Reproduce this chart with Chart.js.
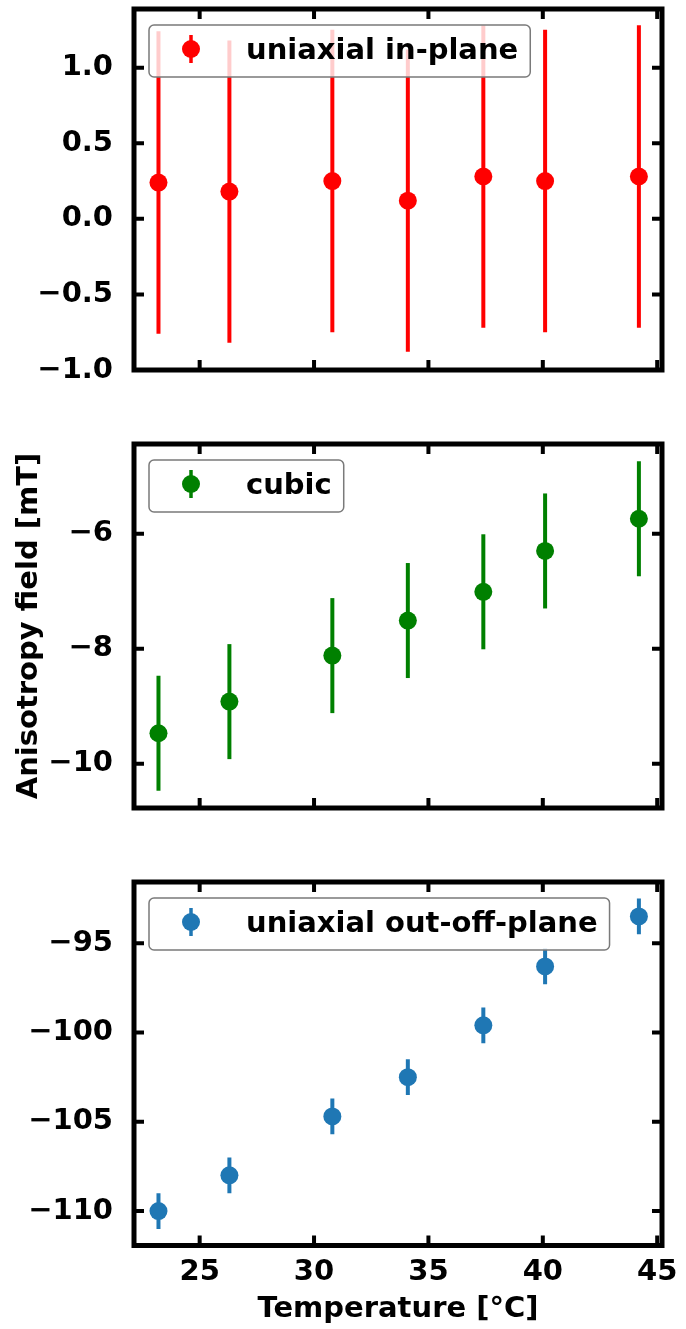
<!DOCTYPE html>
<html>
<head>
<meta charset="utf-8">
<script src="https://cdn.jsdelivr.net/npm/chart.js@4.4.0/dist/chart.umd.min.js"></script>
<style>
  html, body { margin: 0; padding: 0; background: #fff; }
  #wrap { position: relative; width: 686px; height: 1329px; }
  canvas { position: absolute; left: 0; }
</style>
</head>
<body>
<div id="wrap">
  <canvas id="inPlaneChart" width="686" height="410" style="top:0px"></canvas>
  <canvas id="cubicChart" width="686" height="420" style="top:420px"></canvas>
  <canvas id="outPlaneChart" width="686" height="469" style="top:860px"></canvas>
</div>
<script>
const temperature = [23.2, 26.3, 30.8, 34.1, 37.4, 40.1, 44.2];

const inPlane = [0.24, 0.18, 0.25, 0.12, 0.28, 0.25, 0.28];
const inPlaneErr = [1.0, 1.0, 1.0, 1.0, 1.0, 1.0, 1.0];

const cubic = [-9.47, -8.92, -8.12, -7.51, -7.01, -6.30, -5.74];
const cubicErr = [1.0, 1.0, 1.0, 1.0, 1.0, 1.0, 1.0];

const outPlane = [-110.0, -108.0, -104.7, -102.5, -99.6, -96.3, -93.5];
const outPlaneErr = [1.0, 1.0, 1.0, 1.0, 1.0, 1.0, 1.0];

const xTicks = [25, 30, 35, 40, 45];
const inPlaneTicks = [-1.0, -0.5, 0.0, 0.5, 1.0];
const cubicTicks = [-10, -8, -6];
const outPlaneTicks = [-110, -105, -100, -95];

const FONT = { family: "'DejaVu Sans', sans-serif", size: 29, weight: 'bold' };

// vertical error bars, drawn under the markers
const errorBars = {
  id: 'errorBars',
  beforeDatasetsDraw(chart, args, opts) {
    const { ctx, chartArea: a, scales: { x, y } } = chart;
    ctx.save();
    ctx.beginPath();
    ctx.rect(a.left, a.top, a.width, a.height);
    ctx.clip();
    ctx.strokeStyle = opts.color;
    ctx.lineWidth = 4;
    opts.values.forEach((v, i) => {
      const px = x.getPixelForValue(opts.xs[i]);
      ctx.beginPath();
      ctx.moveTo(px, y.getPixelForValue(v - opts.errs[i]));
      ctx.lineTo(px, y.getPixelForValue(v + opts.errs[i]));
      ctx.stroke();
    });
    ctx.restore();
  }
};

// box around the plot with inward ticks on all four sides
const frame = {
  id: 'frame',
  afterDatasetsDraw(chart) {
    const { ctx, chartArea: a, scales: { x, y } } = chart;
    ctx.save();
    ctx.strokeStyle = '#000';
    ctx.lineWidth = 4;
    x.ticks.forEach(t => {
      const px = x.getPixelForValue(t.value);
      ctx.beginPath();
      ctx.moveTo(px, a.top); ctx.lineTo(px, a.top + 10);
      ctx.moveTo(px, a.bottom); ctx.lineTo(px, a.bottom - 10);
      ctx.stroke();
    });
    y.ticks.forEach(t => {
      const py = y.getPixelForValue(t.value);
      ctx.beginPath();
      ctx.moveTo(a.left, py); ctx.lineTo(a.left + 10, py);
      ctx.moveTo(a.right, py); ctx.lineTo(a.right - 10, py);
      ctx.stroke();
    });
    ctx.lineWidth = 5;
    ctx.strokeRect(a.left, a.top, a.width, a.height);
    ctx.restore();
  }
};

// matplotlib-like legend box in the upper left corner
const boxLegend = {
  id: 'boxLegend',
  afterDraw(chart) {
    const { ctx, chartArea: a } = chart;
    const ds = chart.data.datasets[0];
    ctx.save();
    ctx.font = `bold ${FONT.size}px 'DejaVu Sans'`;
    const tw = ctx.measureText(ds.label).width;
    const bx = a.left + 15, by = a.top + 16;
    const bw = 97 + tw + 12, bh = 52;
    ctx.beginPath();
    ctx.roundRect(bx, by, bw, bh, 5);
    ctx.fillStyle = 'rgba(255,255,255,0.8)';
    ctx.fill();
    ctx.strokeStyle = '#7a7a7a';
    ctx.lineWidth = 1.5;
    ctx.stroke();

    const mx = bx + 42, my = by + 24;
    ctx.strokeStyle = ds.backgroundColor;
    ctx.lineWidth = 3.5;
    ctx.beginPath();
    ctx.moveTo(mx, my - 14); ctx.lineTo(mx, my + 14);
    ctx.stroke();
    ctx.fillStyle = ds.backgroundColor;
    ctx.beginPath();
    ctx.arc(mx, my, 9, 0, Math.PI * 2);
    ctx.fill();

    ctx.fillStyle = '#000';
    ctx.textBaseline = 'middle';
    ctx.textAlign = 'left';
    ctx.fillText(ds.label, bx + 97, by + 26);
    ctx.restore();
  }
};

const minus = s => s.replace('-', '\u2212');

function makeChart(id, cfg) {
  const ctx = document.getElementById(id).getContext('2d');
  return new Chart(ctx, {
    type: 'scatter',
    data: {
      datasets: [{
        label: cfg.label,
        data: temperature.map((t, i) => ({ x: t, y: cfg.values[i] })),
        backgroundColor: cfg.color,
        borderWidth: 0,
        pointRadius: 9,
        pointHoverRadius: 9
      }]
    },
    options: {
      responsive: false,
      animation: false,
      events: [],
      layout: { padding: { top: cfg.padTop, right: 24, left: 0, bottom: 0 } },
      plugins: {
        legend: { display: false },
        tooltip: { enabled: false },
        errorBars: { xs: temperature, values: cfg.values, errs: cfg.errs, color: cfg.color }
      },
      scales: {
        x: {
          type: 'linear',
          min: 22.13,
          max: 45.21,
          grid: { display: false },
          border: { display: false },
          afterBuildTicks: s => { s.ticks = xTicks.map(v => ({ value: v })); },
          afterFit: s => {
            s.height = cfg.xHeight;
            s.paddingLeft = 0; s.paddingRight = 0;
          },
          ticks: {
            display: cfg.showX,
            color: '#000',
            font: FONT,
            padding: 2,
            maxRotation: 0
          },
          title: {
            display: cfg.showX,
            text: 'Temperature [°C]',
            color: '#000',
            font: FONT,
            padding: { top: 0, bottom: 2 }
          }
        },
        y: {
          min: cfg.yMin,
          max: cfg.yMax,
          grid: { display: false },
          border: { display: false },
          afterBuildTicks: s => { s.ticks = cfg.yTicks.map(v => ({ value: v })); },
          afterFit: s => {
            s.width = 134;
            s.paddingTop = 0; s.paddingBottom = 0;
          },
          ticks: {
            color: '#000',
            font: FONT,
            padding: 13,
            callback: v => minus(cfg.decimals ? v.toFixed(cfg.decimals) : String(v))
          },
          title: {
            display: cfg.showYTitle,
            text: 'Anisotropy field [mT]',
            color: '#000',
            font: FONT,
            padding: { top: 12, bottom: 0 }
          }
        }
      }
    },
    plugins: [errorBars, frame, boxLegend]
  });
}

makeChart('inPlaneChart', {
  label: 'uniaxial in-plane',
  values: inPlane, errs: inPlaneErr, color: '#ff0000',
  yMin: -1.0, yMax: 1.388, yTicks: inPlaneTicks, decimals: 1,
  padTop: 7.5, xHeight: 40, showX: false, showYTitle: false
});

makeChart('cubicChart', {
  label: 'cubic',
  values: cubic, errs: cubicErr, color: '#008000',
  yMin: -10.77, yMax: -4.44, yTicks: cubicTicks, decimals: 0,
  padTop: 24, xHeight: 32, showX: false, showYTitle: true
});

makeChart('outPlaneChart', {
  label: 'uniaxial out-off-plane',
  values: outPlane, errs: outPlaneErr, color: '#1f77b4',
  yMin: -111.93, yMax: -91.57, yTicks: outPlaneTicks, decimals: 0,
  padTop: 22, xHeight: 83.5, showX: true, showYTitle: false
});
</script>
</body>
</html>
